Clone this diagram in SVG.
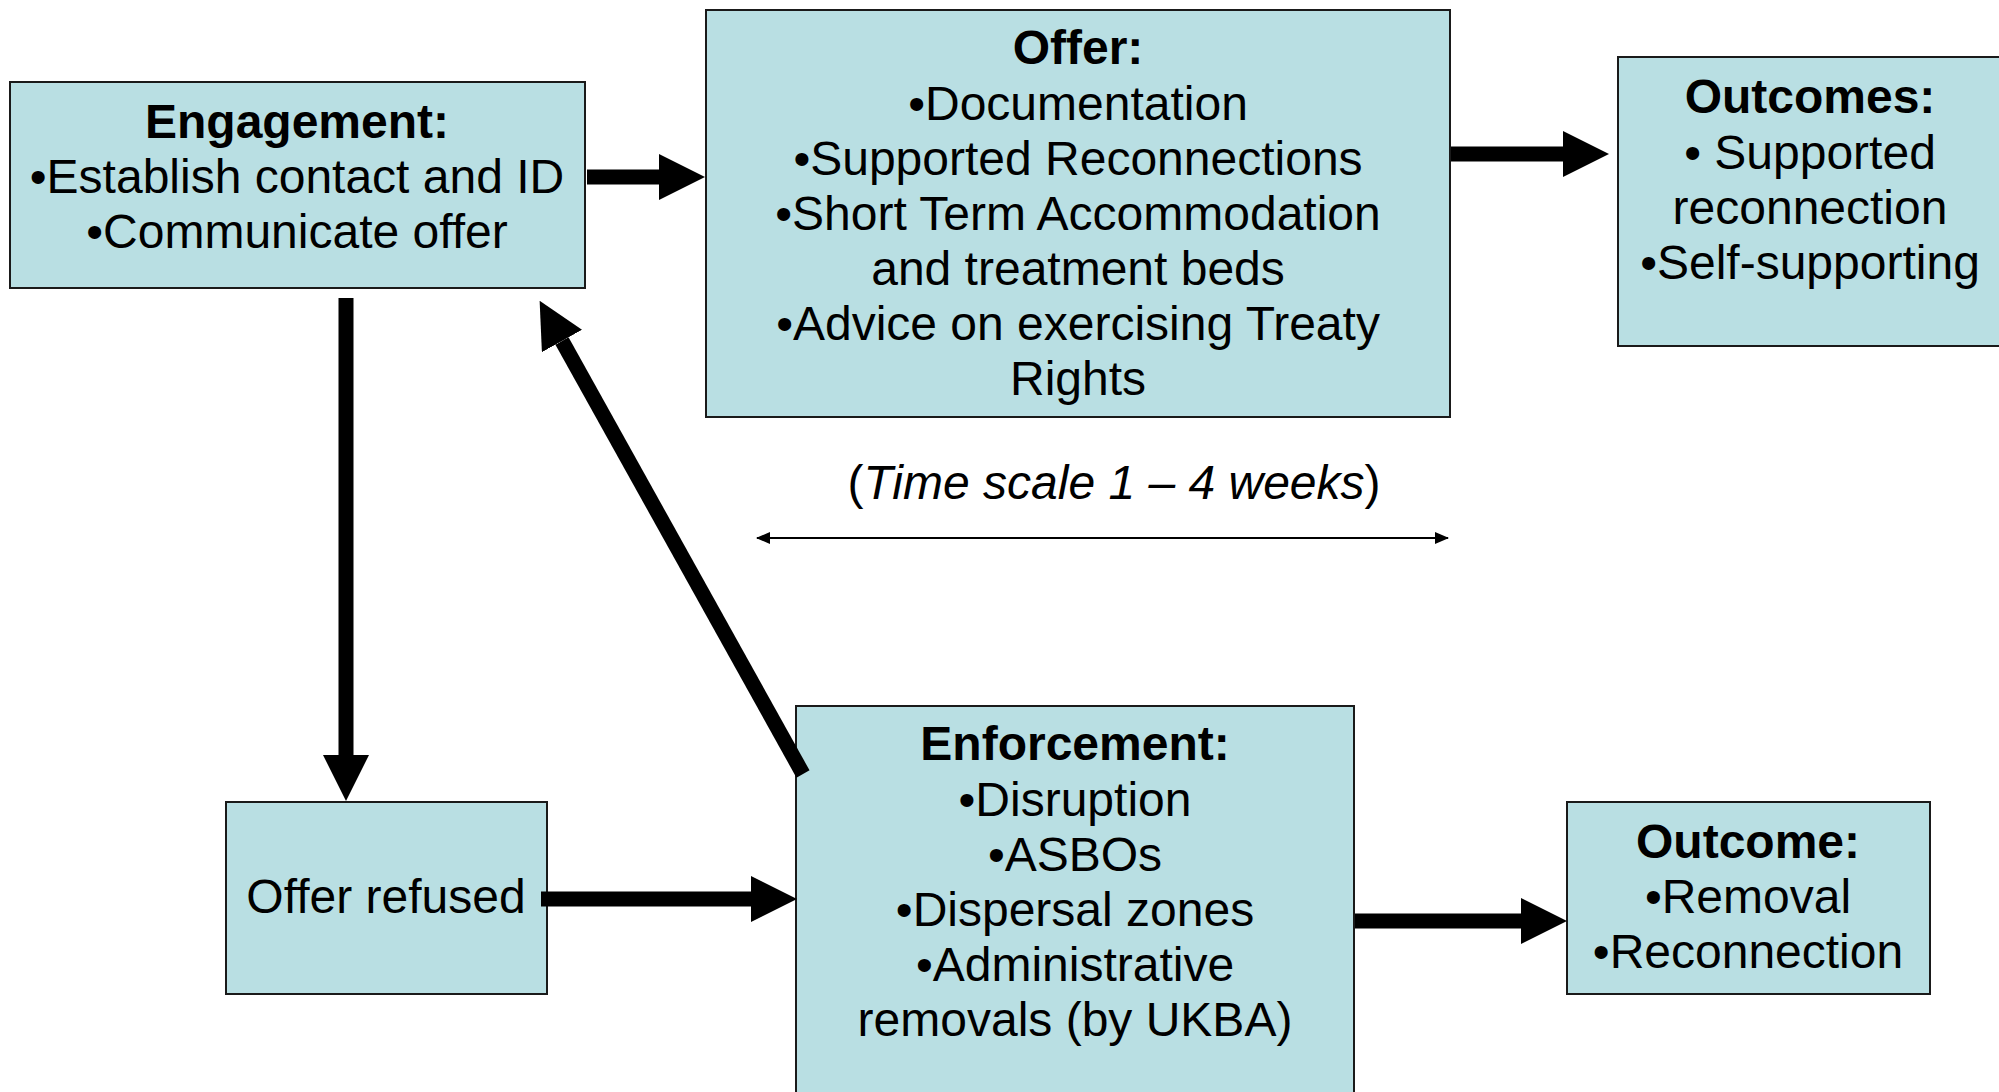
<svg xmlns="http://www.w3.org/2000/svg" width="1999" height="1092" viewBox="0 0 1999 1092">
<style>
  .box { fill: #B9DFE3; stroke: #1a1a1a; stroke-width: 2; }
  text { font-family: "Liberation Sans", Arial, sans-serif; font-size: 48px; fill: #000; text-anchor: middle; }
  .title { font-weight: bold; }
  .thick { stroke: #000; stroke-width: 15; fill: none; marker-end: url(#bigHead); }
  .thin { stroke: #000; stroke-width: 2; fill: none; marker-start: url(#smallHead); marker-end: url(#smallHead); }
</style>
<defs>
  <marker id="bigHead" markerUnits="userSpaceOnUse" viewBox="0 0 46 46" markerWidth="46" markerHeight="46" refX="0" refY="23" orient="auto">
    <path d="M0,0 L46,23 L0,46 Z" fill="#000"/>
  </marker>
  <marker id="smallHead" markerUnits="userSpaceOnUse" viewBox="0 0 14 12" markerWidth="14" markerHeight="12" refX="13" refY="6" orient="auto-start-reverse">
    <path d="M0,0 L14,6 L0,12 Z" fill="#000"/>
  </marker>
</defs>
<rect width="1999" height="1092" fill="#fff"/>

<g id="engagement">
  <rect class="box" x="10" y="82" width="575" height="206"/>
  <text x="297" y="138" class="title">Engagement:</text>
  <text x="297" y="193">•Establish contact and ID</text>
  <text x="297" y="248">•Communicate offer</text>
</g>

<g id="offer">
  <rect class="box" x="706" y="10" width="744" height="407"/>
  <text x="1078" y="64" class="title">Offer:</text>
  <text x="1078" y="120">•Documentation</text>
  <text x="1078" y="175">•Supported Reconnections</text>
  <text x="1078" y="230">•Short Term Accommodation</text>
  <text x="1078" y="285">and treatment beds</text>
  <text x="1078" y="340">•Advice on exercising Treaty</text>
  <text x="1078" y="395">Rights</text>
</g>

<g id="outcomes">
  <rect class="box" x="1618" y="57" width="390" height="289"/>
  <text x="1810" y="113" class="title">Outcomes:</text>
  <text x="1810" y="169">• Supported</text>
  <text x="1810" y="224">reconnection</text>
  <text x="1810" y="279">•Self-supporting</text>
</g>

<g id="timescale">
  <text x="1114" y="499">(<tspan font-style="italic">Time scale 1 – 4 weeks</tspan>)</text>
</g>

<g id="offer-refused">
  <rect class="box" x="226" y="802" width="321" height="192"/>
  <text x="386" y="913">Offer refused</text>
</g>

<g id="enforcement">
  <rect class="box" x="796" y="706" width="558" height="400"/>
  <text x="1075" y="760" class="title">Enforcement:</text>
  <text x="1075" y="816">•Disruption</text>
  <text x="1075" y="871">•ASBOs</text>
  <text x="1075" y="926">•Dispersal zones</text>
  <text x="1075" y="981">•Administrative</text>
  <text x="1075" y="1036">removals (by UKBA)</text>
</g>

<g id="outcome">
  <rect class="box" x="1567" y="802" width="363" height="192"/>
  <text x="1748" y="858" class="title">Outcome:</text>
  <text x="1748" y="913">•Removal</text>
  <text x="1748" y="968">•Reconnection</text>
</g>

<g id="connectors">
  <line class="thick" x1="587" y1="177" x2="659" y2="177"/>
  <line class="thick" x1="1451" y1="154" x2="1563" y2="154"/>
  <line class="thick" x1="346" y1="298" x2="346" y2="755"/>
  <line class="thick" x1="541" y1="899" x2="751" y2="899"/>
  <line class="thick" x1="1355" y1="921" x2="1521" y2="921"/>
  <line class="thick" x1="803" y1="774" x2="562" y2="341"/>
  <line class="thin" x1="757" y1="538" x2="1448" y2="538"/>
</g>
</svg>
